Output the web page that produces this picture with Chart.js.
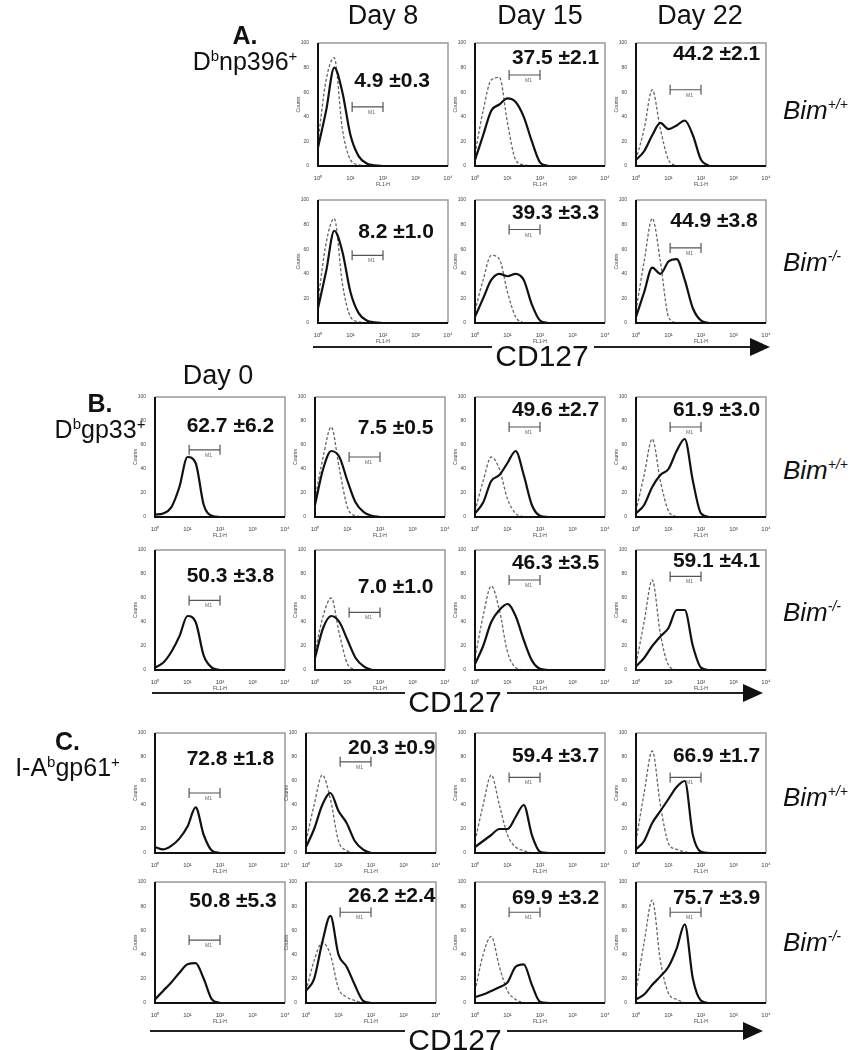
<!DOCTYPE html>
<html><head><meta charset="utf-8">
<script src="https://cdn.jsdelivr.net/npm/chart.js@4/dist/chart.umd.min.js"></script>
<style>
body{margin:0;width:862px;height:1050px;background:#fff;position:relative;overflow:hidden;font-family:"Liberation Sans",Arial,sans-serif;color:#111}
.t{position:absolute;white-space:nowrap}
.val{position:absolute;font-weight:bold;font-size:21px;transform:translate(-50%,-50%);white-space:nowrap}
.day{position:absolute;font-size:27px;transform:translateX(-50%)}
.bim{position:absolute;font-style:italic;font-size:26px;transform:translateY(-50%)}
.lab{position:absolute;font-size:25px;text-align:center;line-height:1.05}
.cd{position:absolute;font-size:30px;transform:translate(-50%,-50%)}
canvas{position:absolute}
</style></head><body>
<script>
// ---- data (x = log10 FL1-H, y = % of axis max) ----
const xGrid = [0,0.25,0.5,0.75,1,1.25,1.5,1.75,2,2.25,2.5,2.75,3,3.25,3.5,3.75,4];
const xTickLabels = ["10⁰","10¹","10²","10³","10⁴"];
const sections = ["A.","B.","C."];
const populations = ["Dbnp396+","Dbgp33+","I-Abgp61+"];
const days = ["Day 0","Day 8","Day 15","Day 22"];
const genotypes = ["Bim+/+","Bim-/-"];
const gate = [1.05, 2.0];
// percentages shown in each panel
const valA1 = ["4.9 ±0.3","37.5 ±2.1","44.2 ±2.1"];
const valA2 = ["8.2 ±1.0","39.3 ±3.3","44.9 ±3.8"];
const valB1 = ["62.7 ±6.2","7.5 ±0.5","49.6 ±2.7","61.9 ±3.0"];
const valB2 = ["50.3 ±3.8","7.0 ±1.0","46.3 ±3.5","59.1 ±4.1"];
const valC1 = ["72.8 ±1.8","20.3 ±0.9","59.4 ±3.7","66.9 ±1.7"];
const valC2 = ["50.8 ±5.3","26.2 ±2.4","69.9 ±3.2","75.7 ±3.9"];
// solid = CD127 stain, dashed = control
const solidA1 = [[15,45,80,60,25,8,2,0.5,0],[5,25,45,50,55,52,40,20,3,0],[5,12,25,35,30,33,37,25,5,0]];
const dashA1  = [[20,70,88,30,5,1,0],[10,45,70,72,35,5,1,0],[5,30,62,30,5,0]];
const solidA2 = [[12,42,75,58,25,8,2,0.5,0],[5,20,35,40,38,40,35,15,2,0],[5,25,45,40,50,52,35,12,2,0]];
const dashA2  = [[18,65,85,32,5,1,0],[10,35,55,52,25,5,0],[10,50,85,50,5,0]];
const solidB1 = [[2,3,8,25,50,45,10,1,0],[10,40,55,50,30,12,4,1,0],[3,12,30,35,45,55,35,10,1,0],[3,10,25,35,40,55,65,30,3,0]];
const dashB1  = [[],[15,50,75,40,8,1,0],[5,30,50,40,15,3,0],[5,35,65,30,5,0]];
const solidB2 = [[2,6,15,28,45,40,12,2,0],[10,35,45,40,25,10,3,0],[5,20,40,50,55,45,25,8,1,0],[3,10,20,28,35,50,50,20,2,0]];
const dashB2  = [[],[15,45,60,30,5,0],[10,45,70,50,15,2,0],[5,40,75,30,4,0]];
const solidC1 = [[5,3,6,12,22,38,15,2,0],[5,20,40,50,35,25,10,3,0],[5,10,15,20,20,30,40,15,1,0],[3,10,25,35,45,55,60,15,1,0]];
const dashC1  = [[],[10,40,65,45,10,2,0],[10,40,65,40,15,5,2,0],[10,50,85,40,8,3,1,0]];
const solidC2 = [[3,10,17,25,32,33,20,3,0],[10,20,50,72,40,30,15,2,0],[5,7,10,13,17,30,32,15,1,0],[3,7,15,22,30,45,65,20,2,0]];
const dashC2  = [[],[10,35,50,40,12,5,2,0],[10,40,55,30,10,3,0],[10,50,85,35,8,3,0]];
</script>
<script>
const colX = {A:[318,475,636],B:[155,315,475,636],C:[155,306,475,636]};
const colW = 130;
const rowsY = {A1:[43,166],A2:[200,323],B1:[397,517],B2:[550,670],C1:[733,853],C2:[882,1003]};
const layoutA1 = [[0.57,0.3,0.52],[0.62,0.11,0.26],[0.62,0.08,0.38]];
const layoutA2 = [[0.6,0.25,0.45],[0.62,0.1,0.24],[0.6,0.16,0.39]];
const layoutB1 = [[0.58,0.23,0.44],[0.62,0.25,0.5],[0.62,0.1,0.25],[0.62,0.1,0.25]];
const layoutB2 = [[0.58,0.21,0.42],[0.62,0.3,0.52],[0.62,0.1,0.25],[0.62,0.08,0.22]];
const layoutC1 = [[0.58,0.21,0.5],[0.66,0.12,0.24],[0.62,0.18,0.37],[0.62,0.18,0.37]];
const layoutC2 = [[0.6,0.15,0.48],[0.66,0.11,0.25],[0.62,0.12,0.25],[0.62,0.12,0.25]];

function pts(arr){return arr.map((v,i)=>({x:xGrid[i],y:v}));}
const boxPlugin={id:'box',afterDraw(c){const a=c.chartArea,g=c.ctx;g.save();
 g.strokeStyle='#999';g.lineWidth=1.5;g.beginPath();g.moveTo(a.left,a.top);g.lineTo(a.right,a.top);g.lineTo(a.right,a.bottom);g.stroke();
 g.strokeStyle='#111';g.lineWidth=2;g.beginPath();g.moveTo(a.left,a.top);g.lineTo(a.left,a.bottom);g.lineTo(a.right,a.bottom);g.stroke();
 const gy=a.top+c.options.gateY*(a.bottom-a.top);const x1=c.scales.x.getPixelForValue(gate[0]),x2=c.scales.x.getPixelForValue(gate[1]);
 g.strokeStyle='#555';g.lineWidth=1.2;g.beginPath();g.moveTo(x1,gy);g.lineTo(x2,gy);g.moveTo(x1,gy-5);g.lineTo(x1,gy+5);g.moveTo(x2,gy-5);g.lineTo(x2,gy+5);g.stroke();
 g.fillStyle='#666';g.font='5px Liberation Sans';g.textAlign='center';g.fillText('M1',(x1+x2)/2+4,gy+7);
 g.restore();}};

function panel(L,T,B,solid,dash,val,lay){
 const W=colW,H=B-T;
 const cv=document.createElement('canvas');
 cv.style.left=(L-22)+'px';cv.style.top=(T-4)+'px';cv.style.width=(W+28)+'px';cv.style.height=(H+26)+'px';
 document.body.appendChild(cv);
 const ds=[{data:pts(solid),borderColor:'#111',borderWidth:2.2,pointRadius:0,cubicInterpolationMode:'monotone',fill:false}];
 if(dash.length)ds.push({data:pts(dash),borderColor:'#666',borderWidth:1.3,borderDash:[3,2],pointRadius:0,cubicInterpolationMode:'monotone',fill:false});
 new Chart(cv,{type:'line',data:{datasets:ds},plugins:[boxPlugin],options:{gateY:lay[2],responsive:false,animation:false,
  layout:{padding:{top:4,right:6,left:0,bottom:0}},
  plugins:{legend:{display:false},tooltip:{enabled:false}},
  scales:{x:{type:'linear',min:0,max:4,grid:{display:false},border:{display:false},
     ticks:{stepSize:1,font:{size:6},color:'#444',padding:1,maxRotation:0,callback:v=>xTickLabels[v]},
     title:{display:true,text:'FL1-H',font:{size:5},color:'#444',padding:0},afterFit:s=>{s.height=22;}},
   y:{min:0,max:100,grid:{display:false},border:{display:false},
     ticks:{stepSize:20,font:{size:5},color:'#444',padding:1},
     title:{display:true,text:'Counts',font:{size:5},color:'#444',padding:0},afterFit:s=>{s.width=22;}}}}});
 const d=document.createElement('div');d.className='val';d.textContent=val;
 d.style.left=(L+lay[0]*W)+'px';d.style.top=(T+lay[1]*H)+'px';document.body.appendChild(d);
}
function row(key,sec,solids,dashes,vals,lays){const [T,B]=rowsY[key];colX[sec].forEach((L,i)=>panel(L,T,B,solids[i],dashes[i],vals[i],lays[i]));}
row('A1','A',solidA1,dashA1,valA1,layoutA1);
row('A2','A',solidA2,dashA2,valA2,layoutA2);
row('B1','B',solidB1,dashB1,valB1,layoutB1);
row('B2','B',solidB2,dashB2,valB2,layoutB2);
row('C1','C',solidC1,dashC1,valC1,layoutC1);
row('C2','C',solidC2,dashC2,valC2,layoutC2);

function add(cls,html,css){const d=document.createElement('div');d.className=cls;d.innerHTML=html;Object.assign(d.style,css);document.body.appendChild(d);}
[[days[1],383],[days[2],540],[days[3],700]].forEach(([t,x])=>add('day',t,{left:x+'px',top:'0px'}));
add('day',days[0],{left:'218px',top:'360px'});
[110,262,470,612,797,942].forEach((y,i)=>add('bim',i%2?'Bim<sup style="font-size:14px">-/-</sup>':'Bim<sup style="font-size:14px">+/+</sup>',{left:'783px',top:y+'px'}));
function sup(p){const m={"Dbnp396+":"D<sup style='font-size:15px'>b</sup>np396<sup style='font-size:15px'>+</sup>","Dbgp33+":"D<sup style='font-size:15px'>b</sup>gp33<sup style='font-size:15px'>+</sup>","I-Abgp61+":"I-A<sup style='font-size:15px'>b</sup>gp61<sup style='font-size:15px'>+</sup>"};return m[p];}
add('lab','<b>'+sections[0]+'</b><br>'+sup(populations[0]),{left:'180px',top:'22px',width:'130px'});
add('lab','<b>'+sections[1]+'</b><br>'+sup(populations[1]),{left:'40px',top:'390px',width:'120px'});
add('lab','<b>'+sections[2]+'</b><br>'+sup(populations[2]),{left:'0px',top:'728px',width:'135px'});
function axisLine(x1,x2,y,tx,ty){
 const s=document.createElementNS('http://www.w3.org/2000/svg','svg');s.setAttribute('width','862');s.setAttribute('height','1050');s.style.cssText='position:absolute;left:0;top:0;pointer-events:none';
 s.innerHTML=`<line x1="${x1}" y1="${y}" x2="${tx-50}" y2="${y}" stroke="#222" stroke-width="2"/><line x1="${tx+52}" y1="${y}" x2="${x2-20}" y2="${y}" stroke="#222" stroke-width="2"/><polygon points="${x2-20},${y-9} ${x2},${y} ${x2-20},${y+9}" fill="#111"/>`;
 document.body.appendChild(s);add('cd','CD127',{left:tx+'px',top:ty+'px'});}
axisLine(313,770,347,542,356);
axisLine(152,763,693,455,702);
axisLine(150,763,1031,455,1040);
</script>
</body></html>
